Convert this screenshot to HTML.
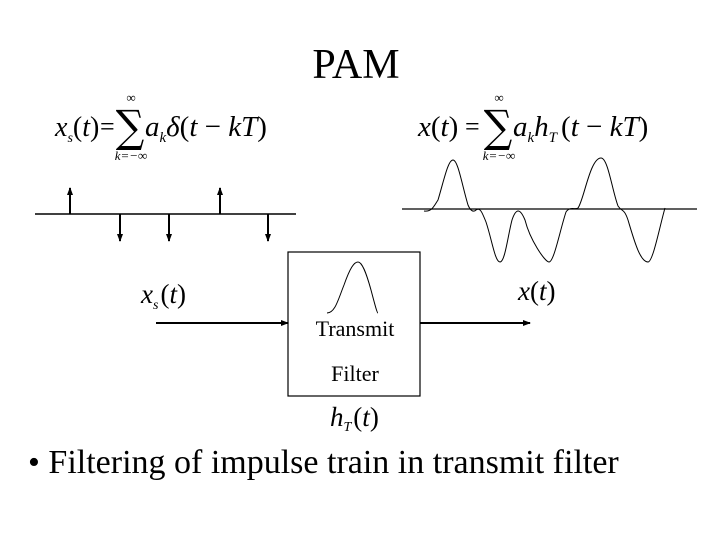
<!DOCTYPE html>
<html><head><meta charset="utf-8"><style>
html,body{margin:0;padding:0;background:#fff;}
svg{display:block;}
text{font-family:"Liberation Serif",serif;fill:#000;}
</style></head><body>
<svg width="720" height="540" viewBox="0 0 720 540" xmlns="http://www.w3.org/2000/svg">
<defs>
<marker id="ah" markerWidth="8" markerHeight="8" refX="7" refY="4" orient="auto" markerUnits="userSpaceOnUse">
<path d="M0,1 L8,4 L0,7 Z" fill="#000"/></marker>
</defs>
<text x="356" y="78" font-size="42" text-anchor="middle">PAM</text>

<!-- left formula -->
<text x="55" y="136" font-size="28"><tspan font-style="italic">x</tspan><tspan font-size="14" font-style="italic" dy="6">s</tspan><tspan dy="-6">(</tspan><tspan font-style="italic">t</tspan><tspan>)</tspan></text>
<text x="100" y="135" font-size="26">=</text>
<text x="145" y="136" font-size="29"><tspan font-style="italic">a</tspan><tspan font-size="15" font-style="italic" dy="6">k</tspan><tspan dy="-6" font-style="italic">δ</tspan><tspan>(</tspan><tspan font-style="italic">t</tspan><tspan> − </tspan><tspan font-style="italic">kT</tspan><tspan>)</tspan></text>
<text x="130" y="140" font-size="40" text-anchor="middle" transform="translate(130 127) scale(1 1.1) translate(-130 -127)" style="font-family:'DejaVu Serif',serif">∑</text>
<text x="131" y="102" font-size="13" text-anchor="middle">∞</text>
<text x="131" y="160" font-size="13" text-anchor="middle" font-style="italic">k=−∞</text>

<!-- right formula -->
<text x="418" y="136" font-size="29"><tspan font-style="italic">x</tspan><tspan>(</tspan><tspan font-style="italic">t</tspan><tspan>)</tspan></text>
<text x="465" y="135" font-size="26">=</text>
<text x="513" y="136" font-size="29"><tspan font-style="italic">a</tspan><tspan font-size="15" font-style="italic" dy="6">k</tspan><tspan dy="-6" font-style="italic">h</tspan><tspan font-size="15" font-style="italic" dy="6">T</tspan><tspan dy="-6" dx="4">(</tspan><tspan font-style="italic">t</tspan><tspan> − </tspan><tspan font-style="italic">kT</tspan><tspan>)</tspan></text>
<text x="498" y="140" font-size="40" text-anchor="middle" transform="translate(498 127) scale(1 1.1) translate(-498 -127)" style="font-family:'DejaVu Serif',serif">∑</text>
<text x="499" y="102" font-size="13" text-anchor="middle">∞</text>
<text x="499" y="160" font-size="13" text-anchor="middle" font-style="italic">k=−∞</text>

<!-- impulse train -->
<line x1="35" y1="214" x2="296" y2="214" stroke="#000" stroke-width="1.5"/>
<g stroke="#000" stroke-width="2" marker-end="url(#ah)">
<line x1="70" y1="214" x2="70" y2="188"/>
<line x1="220" y1="214" x2="220" y2="188"/>
<line x1="120" y1="214" x2="120" y2="241"/>
<line x1="169" y1="214" x2="169" y2="241"/>
<line x1="268" y1="214" x2="268" y2="241"/>
</g>

<!-- output waveform -->
<line x1="402" y1="209" x2="697" y2="209" stroke="#000" stroke-width="1.2"/>
<path d="M424,211 C432,212 434,206 438,200 C444,180 448,160 453,160 C458,160 462,185 468,205 C471,212 474,212 476,210 C480,207 482,212 486,222 C492,240 495,262 500,262 C505,262 508,235 512,220 C516,208 520,208 525,220 C530,240 545,262 549,262 C554,262 560,230 566,212 C570,206 575,210 578,208 C584,200 590,158 601,158 C608,158 612,190 618,206 C622,212 624,208 628,220 C634,240 640,262 648,262 C653,262 660,225 665,208" fill="none" stroke="#000" stroke-width="1"/>

<!-- block diagram -->
<rect x="288" y="252" width="132" height="144" fill="none" stroke="#000" stroke-width="1.2"/>
<path d="M327,313 C335,313 338,300 344,285 C350,268 354,262 358,262 C362,262 366,272 371,290 C375,305 377,313 378,313" fill="none" stroke="#000" stroke-width="1"/>
<text x="355" y="336" font-size="22" text-anchor="middle">Transmit</text>
<text x="355" y="381" font-size="22" text-anchor="middle">Filter</text>
<line x1="156" y1="323" x2="288" y2="323" stroke="#000" stroke-width="2" marker-end="url(#ah)"/>
<line x1="420" y1="323" x2="530" y2="323" stroke="#000" stroke-width="2" marker-end="url(#ah)"/>
<text x="141" y="303" font-size="27"><tspan font-style="italic">x</tspan><tspan font-size="14" font-style="italic" dy="6">s</tspan><tspan dy="-6" dx="2">(</tspan><tspan font-style="italic">t</tspan><tspan>)</tspan></text>
<text x="518" y="300" font-size="27"><tspan font-style="italic">x</tspan><tspan>(</tspan><tspan font-style="italic">t</tspan><tspan>)</tspan></text>
<text x="330" y="426" font-size="27"><tspan font-style="italic">h</tspan><tspan font-size="14" font-style="italic" dy="5">T</tspan><tspan dy="-5" dx="2">(</tspan><tspan font-style="italic">t</tspan><tspan>)</tspan></text>

<text x="28" y="473" font-size="34">• Filtering of impulse train in transmit filter</text>
</svg>
</body></html>
